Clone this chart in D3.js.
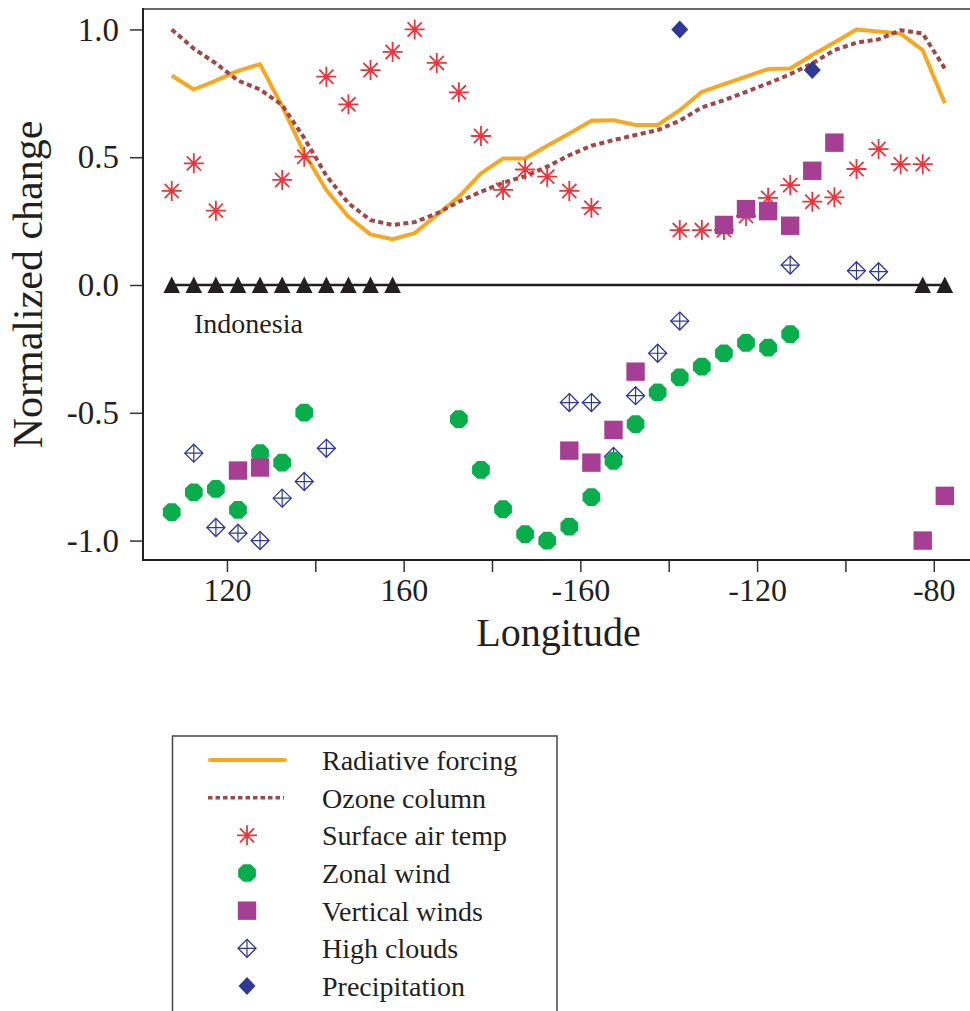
<!DOCTYPE html>
<html>
<head>
  <meta charset="UTF-8">
  <style>
    body { margin: 0; background: #fff; }
    svg { display: block; font-family: "Liberation Serif", "DejaVu Serif", serif; }
  </style>
</head>
<body>
<script src="https://d3js.org/d3.v7.min.js"></script>
<div id="chart"></div>
<script>

  // longitude of every sample (degrees east, >180 means west)
  var longitudes = [107.5, 112.5, 117.5, 122.5, 127.5, 132.5, 137.5, 142.5, 147.5, 152.5,
                    157.5, 162.5, 167.5, 172.5, 177.5, 182.5, 187.5, 192.5, 197.5, 202.5,
                    207.5, 212.5, 217.5, 222.5, 227.5, 232.5, 237.5, 242.5, 247.5, 252.5,
                    257.5, 262.5, 267.5, 272.5, 277.5, 282.5];

  var radiativeForcing = [0.82, 0.765, 0.80, 0.838, 0.864, 0.70, 0.516, 0.372, 0.267, 0.198,
                          0.179, 0.203, 0.274, 0.345, 0.437, 0.495, 0.495, 0.545, 0.593, 0.643,
                          0.645, 0.626, 0.626, 0.684, 0.756, 0.786, 0.815, 0.845, 0.847, 0.90,
                          0.949, 1.0, 0.992, 0.984, 0.919, 0.711];

  var ozoneColumn = [1.0, 0.925, 0.867, 0.80, 0.765, 0.704, 0.575, 0.428, 0.32, 0.254,
                     0.235, 0.246, 0.28, 0.326, 0.365, 0.40, 0.426, 0.463, 0.508, 0.545,
                     0.567, 0.587, 0.606, 0.643, 0.695, 0.723, 0.756, 0.789, 0.825, 0.867,
                     0.919, 0.948, 0.961, 0.997, 0.984, 0.847];

  var surfaceAirTemp = [0.368, 0.476, 0.291, null, null, 0.411, 0.502, 0.815, 0.707, 0.841,
                        0.912, 1.0, 0.869, 0.754, 0.583, 0.372, 0.452, 0.424, 0.368, 0.302,
                        null, null, null, 0.215, 0.215, 0.215, 0.27, 0.341, 0.391, 0.326,
                        0.343, 0.454, 0.532, 0.473, 0.473, null];

  var zonalWind = [-0.889, -0.811, -0.798, -0.88, -0.658, -0.695, -0.499, null, null, null,
                   null, null, null, -0.525, -0.723, -0.877, -0.975, -1.0, -0.945, -0.83,
                   -0.688, -0.544, -0.42, -0.361, -0.319, -0.267, -0.226, -0.245, -0.192, null,
                   null, null, null, null, null, null];

  var verticalWinds = [null, null, null, -0.726, -0.714, null, null, null, null, null,
                       null, null, null, null, null, null, null, null, -0.648, -0.695,
                       -0.567, -0.339, null, null, null, 0.235, 0.297, 0.289, 0.232, 0.447,
                       0.557, null, null, null, -1.0, -0.825];

  var highClouds = [null, -0.658, -0.949, -0.971, -1.0, -0.834, -0.769, -0.639, null, null,
                    null, null, null, null, null, null, null, null, -0.46, -0.46,
                    -0.671, -0.433, -0.267, -0.141, null, null, null, null, 0.078, null,
                    null, 0.056, 0.052, null, null, null];

  var precipitation = [null, null, null, null, null, null, null, null, null, null,
                       null, null, null, null, null, null, null, null, null, null,
                       null, null, null, 1.0, null, null, null, null, null, 0.841,
                       null, null, null, null, null, null];

  // black triangles sitting on the zero line
  var zeroMarkers = [0, 0, 0, 0, 0, 0, 0, 0, 0, 0,
                     0, null, null, null, null, null, null, null, null, null,
                     null, null, null, null, null, null, null, null, null, null,
                     null, null, null, null, 0, 0];

  var xTickValues = [120, 140, 160, 180, 200, 220, 240, 260, 280];
  var xTickLabels = ["120", "", "160", "", "-160", "", "-120", "", "-80"];
  var yTickValues = [-1, -0.5, 0, 0.5, 1];
  var yTickLabels = ["-1.0", "-0.5", "0.0", "0.5", "1.0"];

  var legendNames = ["Radiative forcing", "Ozone column", "Surface air temp", "Zonal wind",
                     "Vertical winds", "High clouds", "Precipitation"];

  var width = 970, height = 1011;
  var plot = {left: 143, right: 970, top: 9, bottom: 560};

  var svg = d3.select("#chart").append("svg")
    .attr("width", width)
    .attr("height", height);

  var x = d3.scaleLinear().domain([101, 288.2]).range([plot.left, plot.right]);
  var y = d3.scaleLinear().domain([-1.076, 1.08]).range([plot.bottom, plot.top]);

  function pairs(vals) {
    return longitudes.map(function(lon, i) { return {lon: lon, v: vals[i]}; })
                     .filter(function(d) { return d.v != null; });
  }

  // colours
  var cOrange = "#f5a823", cBrown = "#a0474a", cRed = "#e8363c",
      cGreen = "#0aad4c", cPurple = "#a63f93", cBlue = "#2e3995", cBlack = "#231f20";

  // frame
  svg.append("line").attr("x1", plot.left).attr("x2", plot.right).attr("y1", plot.top).attr("y2", plot.top)
    .attr("stroke", "#6b6b6b").attr("stroke-width", 2);
  svg.append("line").attr("x1", plot.left).attr("x2", plot.left).attr("y1", plot.top - 1).attr("y2", plot.bottom + 1)
    .attr("stroke", "#222").attr("stroke-width", 2);
  svg.append("line").attr("x1", plot.left).attr("x2", plot.right).attr("y1", plot.bottom).attr("y2", plot.bottom)
    .attr("stroke", "#222").attr("stroke-width", 2);

  // axes
  var xAxis = svg.append("g")
    .attr("transform", "translate(0," + (plot.bottom + 1) + ")")
    .call(d3.axisBottom(x).tickValues(xTickValues).tickSize(11).tickPadding(6)
      .tickFormat(function(d, i) { return xTickLabels[i]; }));
  xAxis.select(".domain").remove();
  xAxis.selectAll("line").attr("stroke", "#333").attr("stroke-width", 1.5);
  xAxis.selectAll("text").attr("font-size", 32).attr("fill", "#231f20")
    .attr("font-family", "Liberation Serif");

  var yAxis = svg.append("g")
    .attr("transform", "translate(" + (plot.left - 1) + ",0)")
    .call(d3.axisLeft(y).tickValues(yTickValues).tickSize(12).tickPadding(11)
      .tickFormat(function(d, i) { return yTickLabels[i]; }));
  yAxis.select(".domain").remove();
  yAxis.selectAll("line").attr("stroke", "#333").attr("stroke-width", 1.5);
  yAxis.selectAll("text").attr("font-size", 33).attr("fill", "#231f20")
    .attr("font-family", "Liberation Serif");

  svg.append("text")
    .attr("x", (plot.left + plot.right) / 2 + 2)
    .attr("y", 646)
    .attr("text-anchor", "middle")
    .attr("font-size", 40)
    .attr("fill", "#231f20")
    .text("Longitude");

  svg.append("text")
    .attr("transform", "translate(42," + ((plot.top + plot.bottom) / 2) + ") rotate(-90)")
    .attr("text-anchor", "middle")
    .attr("font-size", 42)
    .attr("fill", "#231f20")
    .text("Normalized change");

  // lines
  var line = d3.line().x(function(d) { return x(d.lon); }).y(function(d) { return y(d.v); });

  svg.append("path").datum(pairs(radiativeForcing))
    .attr("d", line).attr("fill", "none")
    .attr("stroke", cOrange).attr("stroke-width", 4).attr("stroke-linejoin", "round");

  svg.append("path").datum(pairs(ozoneColumn))
    .attr("d", line).attr("fill", "none")
    .attr("stroke", cBrown).attr("stroke-width", 4).attr("stroke-dasharray", "5,3.5");

  // zero line
  svg.append("line")
    .attr("x1", x(longitudes[0])).attr("x2", x(longitudes[longitudes.length - 1]))
    .attr("y1", y(0)).attr("y2", y(0))
    .attr("stroke", cBlack).attr("stroke-width", 2.5);

  svg.append("text")
    .attr("x", 194).attr("y", 333)
    .attr("font-size", 28).attr("fill", "#231f20")
    .text("Indonesia");

  // marker shapes
  var asteriskPath = (function() {
    var r = 10, p = "";
    [0, 45, 90, 135].forEach(function(a) {
      var t = a * Math.PI / 180, dx = r * Math.cos(t), dy = r * Math.sin(t);
      p += "M" + (-dx) + "," + (-dy) + "L" + dx + "," + dy;
    });
    return p;
  })();
  var octagonPath = (function() {
    var r = 9.6, pts = [];
    for (var k = 0; k < 8; k++) {
      var t = (22.5 + 45 * k) * Math.PI / 180;
      pts.push([r * Math.cos(t), r * Math.sin(t)]);
    }
    return "M" + pts.join("L") + "Z";
  })();
  var diamondPath = "M0,-9L9,0L0,9L-9,0Z";
  var crossPath = "M0,-9L0,9M-9,0L9,0";
  var trianglePath = "M0,-8.5L8.3,8L-8.3,8Z";

  function drawAsterisk(g) {
    g.append("path").attr("d", asteriskPath).attr("stroke", cRed).attr("stroke-width", 1.8).attr("fill", "none");
    g.append("circle").attr("r", 2.2).attr("fill", cRed);
  }
  function drawOctagon(g) { g.append("path").attr("d", octagonPath).attr("fill", cGreen); }
  function drawSquare(g) { g.append("rect").attr("x", -9.2).attr("y", -9.2).attr("width", 18.4).attr("height", 18.4).attr("fill", cPurple); }
  function drawHighCloud(g) {
    g.append("path").attr("d", diamondPath).attr("fill", "#fff").attr("stroke", cBlue).attr("stroke-width", 1.3);
    g.append("path").attr("d", crossPath).attr("stroke", cBlue).attr("stroke-width", 1.2);
  }
  function drawPrecip(g) { g.append("path").attr("d", "M0,-9L8.5,0L0,9L-8.5,0Z").attr("fill", cBlue); }
  function drawTriangle(g) { g.append("path").attr("d", trianglePath).attr("fill", cBlack); }

  function scatter(vals, drawFn) {
    svg.append("g").selectAll("g")
      .data(pairs(vals))
      .join("g")
      .attr("transform", function(d) { return "translate(" + x(d.lon) + "," + y(d.v) + ")"; })
      .each(function() { drawFn(d3.select(this)); });
  }

  scatter(zeroMarkers, drawTriangle);
  scatter(surfaceAirTemp, drawAsterisk);
  scatter(highClouds, drawHighCloud);
  scatter(zonalWind, drawOctagon);
  scatter(verticalWinds, drawSquare);
  scatter(precipitation, drawPrecip);

  // legend
  var legend = svg.append("g");
  legend.append("rect")
    .attr("x", 172.5).attr("y", 736).attr("width", 384.5).attr("height", 300)
    .attr("fill", "none").attr("stroke", "#444").attr("stroke-width", 1.5);

  var rowY = d3.scaleLinear().domain([0, 6]).range([760, 986]);
  var legendDraw = [null, null, drawAsterisk, drawOctagon, drawSquare, drawHighCloud, drawPrecip];

  legendNames.forEach(function(name, i) {
    var cy = rowY(i);
    if (i === 0) {
      legend.append("line").attr("x1", 210).attr("x2", 285).attr("y1", cy).attr("y2", cy)
        .attr("stroke", cOrange).attr("stroke-width", 4).attr("stroke-linecap", "round");
    } else if (i === 1) {
      legend.append("line").attr("x1", 208).attr("x2", 284).attr("y1", cy).attr("y2", cy)
        .attr("stroke", cBrown).attr("stroke-width", 3.5).attr("stroke-dasharray", "4.5,3");
    } else {
      var g = legend.append("g").attr("transform", "translate(247," + cy + ")");
      legendDraw[i](g);
    }
    legend.append("text")
      .attr("x", 322).attr("y", cy + 10)
      .attr("font-size", 28).attr("fill", "#231f20")
      .text(name);
  });

</script>
</body>
</html>
